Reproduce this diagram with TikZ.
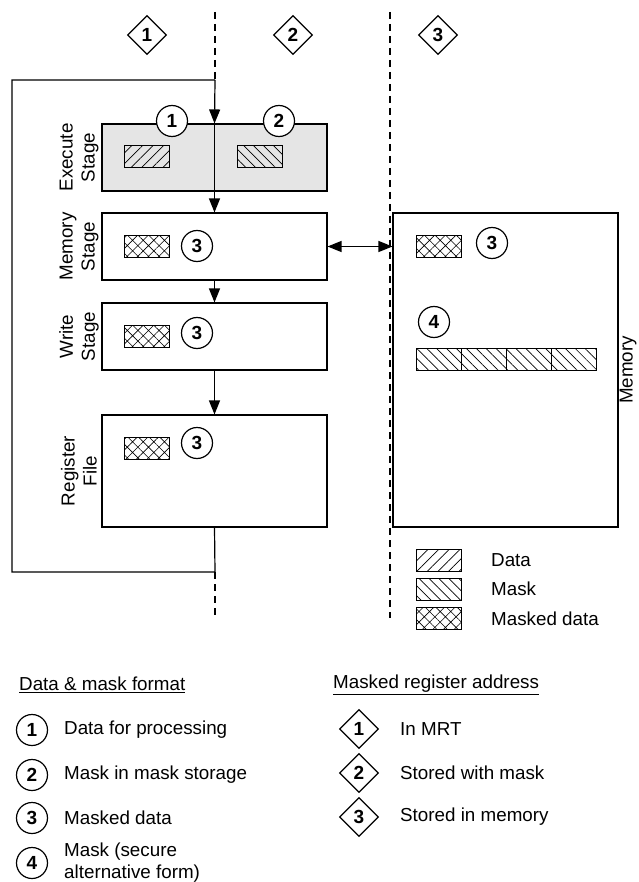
\documentclass[tikz,border=0pt]{standalone}
\usepackage{fontspec}
\setmainfont{Liberation Sans}
\usetikzlibrary{arrows.meta,patterns.meta,shapes.geometric}
\begin{document}
\begin{tikzpicture}[x=1pt,y=-1pt,
  every node/.style={font=\fontsize{18.8}{22}\selectfont, inner sep=0pt},
  stagebox/.style={draw, line width=1.1pt, minimum width=225pt, anchor=center},
  num/.style={circle, draw, line width=1.2pt, fill=white, minimum size=31pt, font=\fontsize{19}{20}\selectfont\bfseries},
  dia/.style={diamond, draw, line width=1.2pt, fill=white, minimum width=39pt, minimum height=39pt, aspect=1, font=\fontsize{19}{20}\selectfont\bfseries},
  datap/.style={draw, line width=1pt, minimum width=45pt, minimum height=22pt, pattern={Lines[angle=45,distance=7.5pt,line width=0.7pt]}},
  maskp/.style={draw, line width=1pt, minimum width=45pt, minimum height=22pt, pattern={Lines[angle=135,distance=7pt,line width=0.7pt]}},
  mdatap/.style={draw, line width=1pt, minimum width=45pt, minimum height=22pt, pattern={Hatch[angle=45,distance=7.5pt,line width=0.6pt]}},
  lbl/.style={rotate=90, align=center},
  conn/.style={line width=1.2pt},
  arr/.style={line width=1.2pt, -{Triangle[length=14pt,width=11pt]}},
  dline/.style={line width=1.1pt, dash pattern=on 7pt off 5pt}
]
\useasboundingbox (0,0) rectangle (638,882);

% dashed separators
\draw[dline] (215,12) -- (215,80);
\draw[dline] (215,572) -- (215,618);
\draw[dline] (390,12) -- (390,618);

% top diamonds
\node[dia] (d1) at (147,35) {1};
\node[dia] (d2) at (293,35) {2};
\node[dia] (d3) at (438,35) {3};

% stages
\node[stagebox, fill=black!10, minimum height=67pt] (exec) at (214.5,157.5) {};
\node[stagebox, minimum height=67pt] (mem) at (214.5,246.5) {};
\node[stagebox, minimum height=67pt] (wr) at (214.5,336.5) {};
\node[stagebox, minimum height=112pt] (reg) at (214.5,471) {};
\node[draw, line width=1.1pt, minimum width=225pt, minimum height=314pt] (memory) at (505.5,370) {};

% stage labels
\node[lbl] (lexec) at (79,157.5) {Execute\\Stage};
\node[lbl] (lmem) at (79,246.5) {Memory\\Stage};
\node[lbl] (lwr) at (79,336.5) {Write\\Stage};
\node[lbl] (lreg) at (79,471) {Register\\File};
\node[rotate=90] (lmemory) at (628,370) {Memory};

% loop and arrows
\coordinate (top) at (215,80);
\coordinate (tl) at (12,80);
\coordinate (bl) at (12,572);
\coordinate (bot) at (215,572);
\draw[conn] (reg.south) -- (bot) -- (bl) -- (tl) -- (top);
\draw[arr] (top) -- (exec.north);
\draw[arr] (exec.north) -- (mem.north);
\draw[arr] (mem.south) -- (wr.north);
\draw[arr] (wr.south) -- (reg.north);
\draw[line width=1.2pt, {Triangle[length=14pt,width=11pt]}-{Triangle[length=14pt,width=11pt]}] (mem.east) -- (memory.west |- mem.east);

% execute contents
\node[num] (c1) at (172,121) {1};
\node[num] (c2) at (279,121) {2};
\node[datap] (r1) at (146.5,157) {};
\node[maskp] (r2) at (259.5,157) {};

% memory stage
\node[mdatap] (r3) at (146.5,246.5) {};
\node[num] (c3) at (197,246) {3};
% write stage
\node[mdatap] (r4) at (146.5,336.5) {};
\node[num] (c4) at (197,333) {3};
% register file
\node[mdatap] (r5) at (146.5,448.5) {};
\node[num] (c5) at (197,443) {3};

% memory contents
\node[mdatap] (r6) at (438.5,247) {};
\node[num] (c6) at (492,243) {3};
\node[num] (c7) at (434,322) {4};
\node[maskp] (m1) at (438.5,359) {};
\node[maskp] (m2) at (483.5,359) {};
\node[maskp] (m3) at (528.5,359) {};
\node[maskp] (m4) at (573.5,359) {};

% pattern legend
\node[datap] (lg1) at (438.5,560.5) {};
\node[maskp] (lg2) at (438.5,589) {};
\node[mdatap] (lg3) at (438.5,618.5) {};
\node[anchor=west] (t1) at (491,560.5) {Data};
\node[anchor=west] (t2) at (491,589) {Mask};
\node[anchor=west] (t3) at (491,618.5) {Masked data};

% bottom legends
\node[anchor=west] (h1) at (19,685) {\underline{Data \& mask format}};
\node[num] (b1) at (32,730) {1};
\node[num] (b2) at (32,775) {2};
\node[num] (b3) at (32,818) {3};
\node[num] (b4) at (32,863) {4};
\node[anchor=west] (bt1) at (64,730) {Data for processing};
\node[anchor=west] (bt2) at (64,775) {Mask in mask storage};
\node[anchor=west] (bt3) at (64,818) {Masked data};
\node[anchor=west, align=left] (bt4) at (64,863) {Mask (secure\\alternative form)};

\node[anchor=west] (h2) at (333,685) {\underline{Masked register address}};
\node[dia] (e1) at (359,729) {1};
\node[dia] (e2) at (359,773) {2};
\node[dia] (e3) at (359,817) {3};
\node[anchor=west] (et1) at (400,729) {In MRT};
\node[anchor=west] (et2) at (400,773) {Stored with mask};
\node[anchor=west] (et3) at (400,817) {Stored in memory};
\end{tikzpicture}
\end{document}
